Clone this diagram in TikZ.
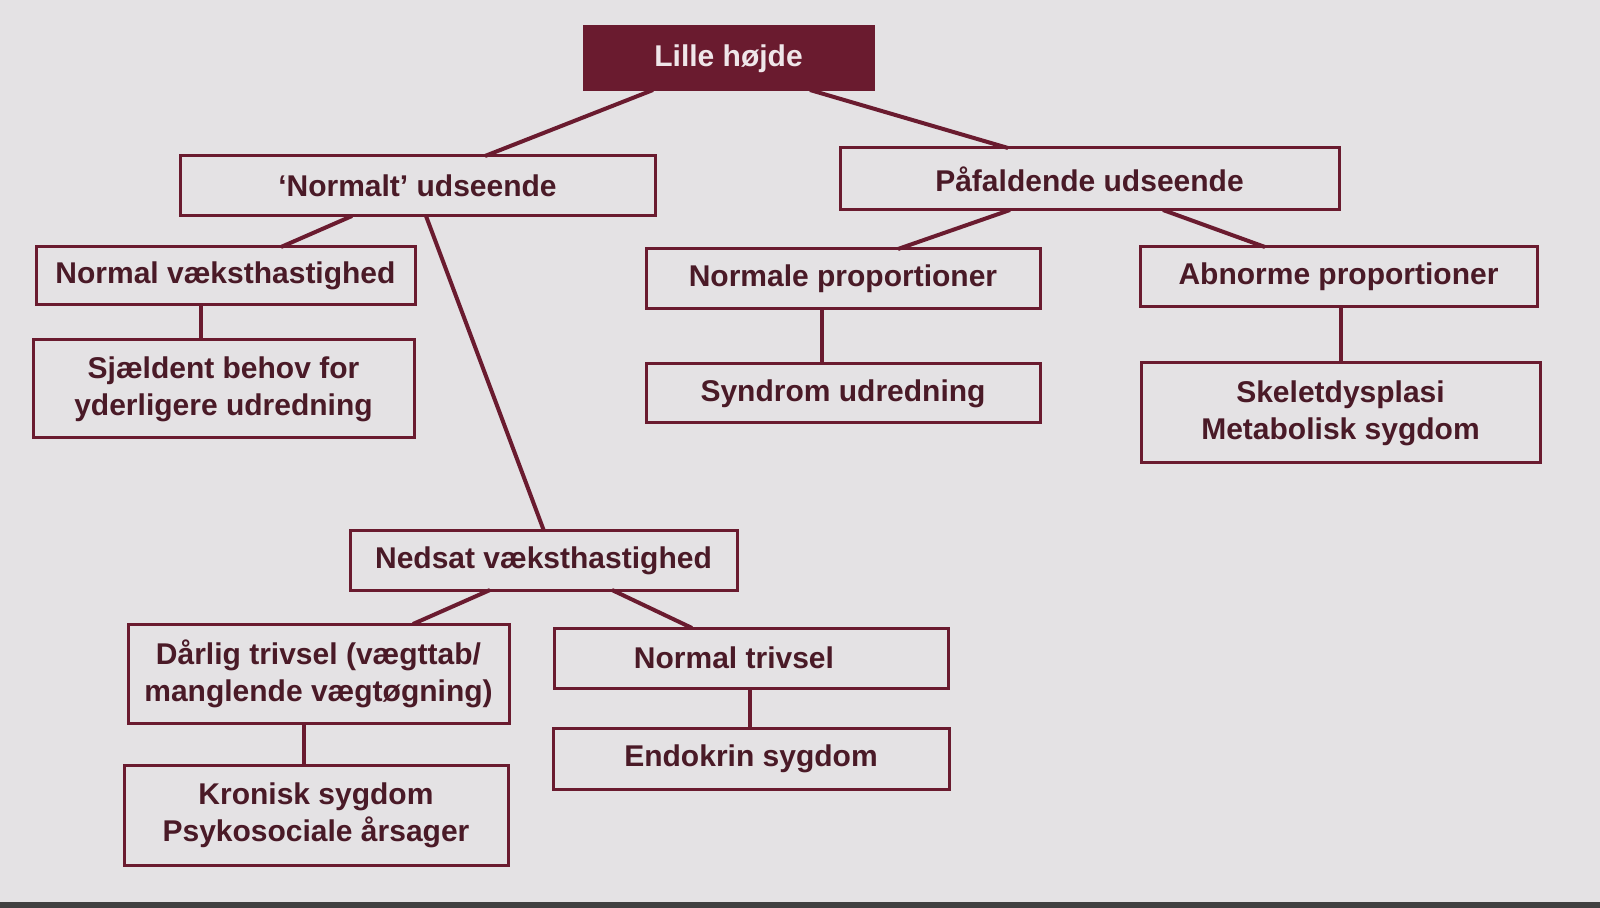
\documentclass[tikz,border=0pt]{standalone}
\usepackage{fontspec}
\setmainfont{Liberation Sans}
\usetikzlibrary{calc}
\definecolor{maroon}{HTML}{6A1B2F}
\definecolor{txt}{HTML}{4A1A27}
\definecolor{bg}{HTML}{E4E2E4}
\definecolor{toptxt}{HTML}{EFE6E9}
\begin{document}
\begin{tikzpicture}[x=0.5pt,y=-0.5pt,
  box/.style={draw=maroon,line width=1.5pt,rectangle,inner sep=0pt,outer sep=0pt,
    text=txt,font=\fontsize{15pt}{18.5pt}\selectfont\bfseries,align=center},
  topbox/.style={box,fill=maroon,text=toptxt},
  conn/.style={draw=maroon,line width=2pt}]
\fill[bg] (0,0) rectangle (1600,908);
\fill[black!75] (0,902) rectangle (1600,908);
\useasboundingbox (0,0) rectangle (1600,908);

\node[topbox,minimum width=144.5pt,minimum height=31.5pt] (top) at (728.5,58.5) {Lille højde};
\node[box,minimum width=237.5pt,minimum height=30pt] (normalt) at (417.5,186) {‘Normalt’ udseende};
\node[box,minimum width=249.5pt,minimum height=31pt] (paafald) at (1089.5,179) {Påfaldende udseende};
\node[box,minimum width=189.5pt,minimum height=29pt] (nvaekst) at (225.5,276) {Normal væksthastighed};
\node[box,minimum width=190.5pt,minimum height=49pt] (sjaeld) at (223.5,389) {Sjældent behov for\\yderligere udredning};
\node[box,minimum width=197pt,minimum height=30pt] (nprop) at (843,279) {Normale proportioner};
\node[box,minimum width=198.5pt,minimum height=30pt] (aprop) at (1338.5,277) {Abnorme proportioner};
\node[box,minimum width=197pt,minimum height=29.5pt] (syndrom) at (843,393.5) {Syndrom udredning};
\node[box,minimum width=199.5pt,minimum height=50pt] (skelet) at (1340.5,413) {Skeletdysplasi\\Metabolisk sygdom};
\node[box,minimum width=193.5pt,minimum height=29.5pt] (nedsat) at (543.5,560.5) {Nedsat væksthastighed};
\node[box,minimum width=190.5pt,minimum height=49.5pt] (daarlig) at (318.5,673.5) {Dårlig trivsel (vægttab/\\manglende vægtøgning)};
\node[box,minimum width=197pt,minimum height=30pt] (ntriv) at (751,658) {Normal trivsel\hspace*{17pt}};
\node[box,minimum width=192pt,minimum height=50pt] (kronisk) at (316,815) {Kronisk sygdom\\Psykosociale årsager};
\node[box,minimum width=198pt,minimum height=30.5pt] (endokrin) at (751,758.5) {Endokrin sygdom};

\draw[conn] ($(top.south)+(-75.5,0)$) -- ($(normalt.north)+(67.5,0)$);
\draw[conn] ($(top.south)+(81.5,0)$) -- ($(paafald.north)+(-81.5,0)$);
\draw[conn] ($(normalt.south)+(-65.5,0)$) -- ($(nvaekst.north)+(55.5,0)$);
\draw[conn] ($(normalt.south)+(8.5,0)$) -- ($(nedsat.north)+(0.5,0)$);
\draw[conn] ($(nvaekst.south)+(-24.5,0)$) -- ($(sjaeld.north)+(-22.5,0)$);
\draw[conn] ($(paafald.south)+(-79.5,0)$) -- ($(nprop.north)+(55,0)$);
\draw[conn] ($(paafald.south)+(73.5,0)$) -- ($(aprop.north)+(-73.5,0)$);
\draw[conn] ($(nprop.south)+(-21,0)$) -- ($(syndrom.north)+(-21,0)$);
\draw[conn] ($(aprop.south)+(2.5,0)$) -- ($(skelet.north)+(0.5,0)$);
\draw[conn] ($(nedsat.south)+(-53.5,0)$) -- ($(daarlig.north)+(94.5,0)$);
\draw[conn] ($(nedsat.south)+(68.5,0)$) -- ($(ntriv.north)+(-59,0)$);
\draw[conn] ($(daarlig.south)+(-14.5,0)$) -- ($(kronisk.north)+(-12,0)$);
\draw[conn] ($(ntriv.south)+(-1,0)$) -- ($(endokrin.north)+(-1,0)$);
\end{tikzpicture}
\end{document}
